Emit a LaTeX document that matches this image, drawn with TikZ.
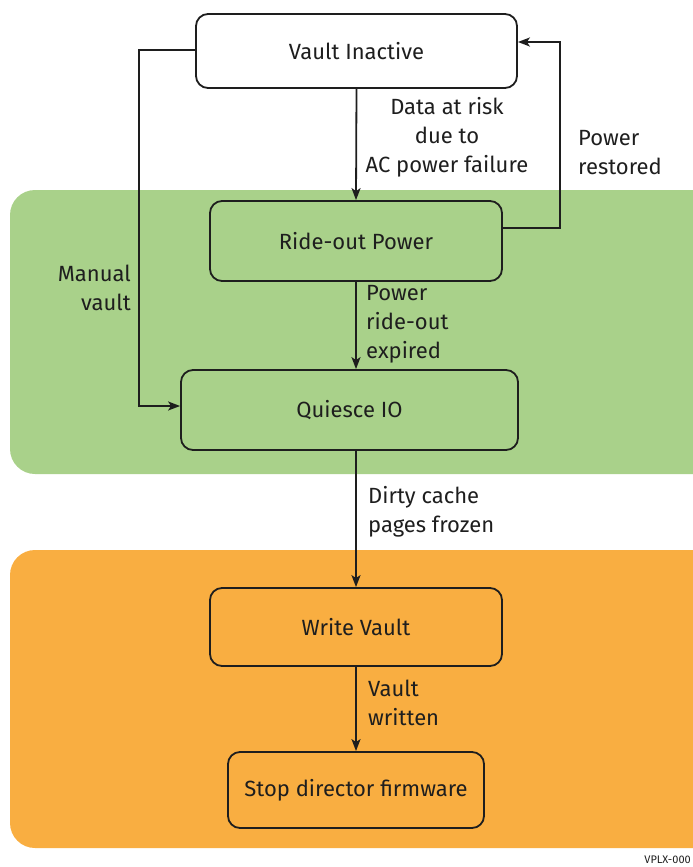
\documentclass[tikz,border=0pt]{standalone}
\usepackage{fontspec}
\setmainfont{Fira Sans}
\usetikzlibrary{arrows.meta}
\definecolor{bandgreen}{HTML}{A9D18A}
\definecolor{bandorange}{HTML}{F9AE41}
\definecolor{inkc}{HTML}{1E1E1E}
\begin{document}
\begin{tikzpicture}[x=1pt,y=-1pt,
  state/.style={draw=inkc, line width=1.8pt, rounded corners=12pt, inner sep=0pt,
    text=inkc, font=\fontsize{22}{26}\selectfont},
  lbl/.style={inner sep=0pt, text=inkc, font=\fontsize{22}{29}\selectfont},
  arr/.style={draw=inkc, line width=1.8pt, -{Stealth[length=12pt,width=9pt,inset=3pt]}}]
\useasboundingbox (0,0) rectangle (693,867);
\clip (0,0) rectangle (693,867);

% background bands
\fill[bandgreen, rounded corners=25pt] (10,190) rectangle (760,474);
\fill[bandorange, rounded corners=25pt] (10,550) rectangle (760,848);

% states
\node[state, fill=white, minimum width=321pt, minimum height=74pt] (inactive) at (356.5,51) {Vault Inactive};
\node[state, fill=bandgreen, minimum width=292pt, minimum height=80pt] (rideout) at (356,241) {Ride-out Power};
\node[state, fill=bandgreen, minimum width=337pt, minimum height=80pt] (quiesce) at (349.5,410) {Quiesce IO};
\node[state, fill=bandorange, minimum width=292pt, minimum height=78pt] (write) at (356,627) {Write Vault};
\node[state, fill=bandorange, minimum width=256pt, minimum height=76pt] (stop) at (356,790) {Stop director firmware};

% routing points
\coordinate (rtop) at (560,42);
\coordinate (lcol) at (139,200);

% transitions
\draw[arr] (inactive.south) -- (rideout.north);
\draw[arr] ([yshift=13pt]rideout.east) -| (rtop) -- (rtop -| inactive.east);
\draw[arr] ([yshift=1pt]inactive.west) -| (lcol) |- ([yshift=4pt]quiesce.west);
\draw[arr] (rideout.south) -- (rideout.south |- quiesce.north);
\draw[arr] (write.north |- quiesce.south) -- (write.north);
\draw[arr] (write.south) -- (stop.north);

% transition labels
\node[lbl, align=center] (l1) at (447,137) {Data at risk\\due to\\AC power failure};
\node[lbl, align=left, anchor=west] (l2) at (578,153) {Power\\restored};
\node[lbl, align=right, anchor=east] (l3) at (131,288) {Manual\\vault};
\node[lbl, align=left, anchor=west] (l4) at (366,324) {Power\\ride-out\\expired};
\node[lbl, align=left, anchor=west] (l5) at (368,512) {Dirty cache\\pages frozen};
\node[lbl, align=left, anchor=west] (l6) at (368,703) {Vault\\written};

% figure id
\node[inner sep=0pt, anchor=base east, text=inkc, font=\fontsize{11}{13}\selectfont] (figid) at (691,863) {VPLX-000};
\end{tikzpicture}
\end{document}
